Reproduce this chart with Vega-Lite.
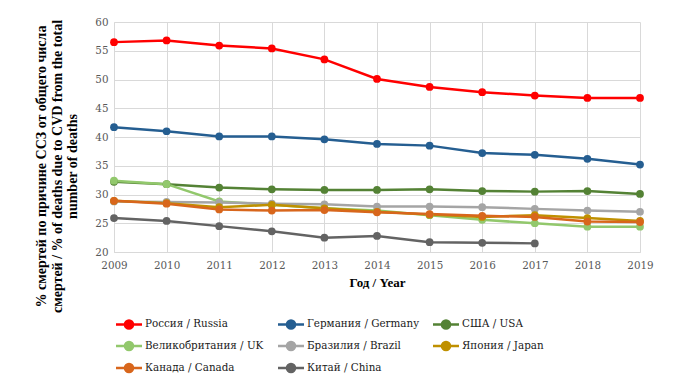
{
  "$schema": "https://vega.github.io/schema/vega-lite/v6.json",
  "width": 526,
  "height": 230,
  "autosize": {"type": "none"},
  "padding": {"left": 114, "top": 22, "right": 44, "bottom": 130},
  "background": "white",
  "config": {
    "view": {"stroke": null},
    "axis": {
      "labelFont": "DejaVu Serif Condensed, DejaVu Serif",
      "labelFontSize": 11.5,
      "labelColor": "#595959",
      "titleFont": "Liberation Serif",
      "titleFontSize": 13,
      "titleFontWeight": "bold",
      "titleColor": "#000000",
      "gridColor": "#d9d9d9",
      "gridWidth": 1,
      "domainColor": "#d9d9d9",
      "ticks": false,
      "labelFlush": false,
      "labelOverlap": false
    }
  },
  "data": {
    "values": [
      {"country": "Россия / Russia", "year": 2009, "value": 56.5},
      {"country": "Россия / Russia", "year": 2010, "value": 56.8},
      {"country": "Россия / Russia", "year": 2011, "value": 55.9},
      {"country": "Россия / Russia", "year": 2012, "value": 55.4},
      {"country": "Россия / Russia", "year": 2013, "value": 53.5},
      {"country": "Россия / Russia", "year": 2014, "value": 50.1},
      {"country": "Россия / Russia", "year": 2015, "value": 48.7},
      {"country": "Россия / Russia", "year": 2016, "value": 47.8},
      {"country": "Россия / Russia", "year": 2017, "value": 47.2},
      {"country": "Россия / Russia", "year": 2018, "value": 46.8},
      {"country": "Россия / Russia", "year": 2019, "value": 46.8},
      {"country": "Германия / Germany", "year": 2009, "value": 41.7},
      {"country": "Германия / Germany", "year": 2010, "value": 41.0},
      {"country": "Германия / Germany", "year": 2011, "value": 40.1},
      {"country": "Германия / Germany", "year": 2012, "value": 40.1},
      {"country": "Германия / Germany", "year": 2013, "value": 39.6},
      {"country": "Германия / Germany", "year": 2014, "value": 38.8},
      {"country": "Германия / Germany", "year": 2015, "value": 38.5},
      {"country": "Германия / Germany", "year": 2016, "value": 37.2},
      {"country": "Германия / Germany", "year": 2017, "value": 36.9},
      {"country": "Германия / Germany", "year": 2018, "value": 36.2},
      {"country": "Германия / Germany", "year": 2019, "value": 35.2},
      {"country": "США / USA", "year": 2009, "value": 32.2},
      {"country": "США / USA", "year": 2010, "value": 31.8},
      {"country": "США / USA", "year": 2011, "value": 31.2},
      {"country": "США / USA", "year": 2012, "value": 30.9},
      {"country": "США / USA", "year": 2013, "value": 30.8},
      {"country": "США / USA", "year": 2014, "value": 30.8},
      {"country": "США / USA", "year": 2015, "value": 30.9},
      {"country": "США / USA", "year": 2016, "value": 30.6},
      {"country": "США / USA", "year": 2017, "value": 30.5},
      {"country": "США / USA", "year": 2018, "value": 30.6},
      {"country": "США / USA", "year": 2019, "value": 30.1},
      {"country": "Великобритания / UK", "year": 2009, "value": 32.4},
      {"country": "Великобритания / UK", "year": 2010, "value": 31.8},
      {"country": "Великобритания / UK", "year": 2011, "value": 28.8},
      {"country": "Великобритания / UK", "year": 2012, "value": 28.2},
      {"country": "Великобритания / UK", "year": 2013, "value": 27.6},
      {"country": "Великобритания / UK", "year": 2014, "value": 27.2},
      {"country": "Великобритания / UK", "year": 2015, "value": 26.4},
      {"country": "Великобритания / UK", "year": 2016, "value": 25.6},
      {"country": "Великобритания / UK", "year": 2017, "value": 25.0},
      {"country": "Великобритания / UK", "year": 2018, "value": 24.4},
      {"country": "Великобритания / UK", "year": 2019, "value": 24.4},
      {"country": "Бразилия / Brazil", "year": 2009, "value": 28.8},
      {"country": "Бразилия / Brazil", "year": 2010, "value": 28.7},
      {"country": "Бразилия / Brazil", "year": 2011, "value": 28.6},
      {"country": "Бразилия / Brazil", "year": 2012, "value": 28.4},
      {"country": "Бразилия / Brazil", "year": 2013, "value": 28.3},
      {"country": "Бразилия / Brazil", "year": 2014, "value": 27.9},
      {"country": "Бразилия / Brazil", "year": 2015, "value": 27.9},
      {"country": "Бразилия / Brazil", "year": 2016, "value": 27.8},
      {"country": "Бразилия / Brazil", "year": 2017, "value": 27.5},
      {"country": "Бразилия / Brazil", "year": 2018, "value": 27.2},
      {"country": "Бразилия / Brazil", "year": 2019, "value": 27.0},
      {"country": "Япония / Japan", "year": 2009, "value": 28.9},
      {"country": "Япония / Japan", "year": 2010, "value": 28.5},
      {"country": "Япония / Japan", "year": 2011, "value": 27.8},
      {"country": "Япония / Japan", "year": 2012, "value": 28.2},
      {"country": "Япония / Japan", "year": 2013, "value": 27.6},
      {"country": "Япония / Japan", "year": 2014, "value": 27.0},
      {"country": "Япония / Japan", "year": 2015, "value": 26.5},
      {"country": "Япония / Japan", "year": 2016, "value": 26.1},
      {"country": "Япония / Japan", "year": 2017, "value": 26.4},
      {"country": "Япония / Japan", "year": 2018, "value": 25.9},
      {"country": "Япония / Japan", "year": 2019, "value": 25.4},
      {"country": "Канада / Canada", "year": 2009, "value": 28.9},
      {"country": "Канада / Canada", "year": 2010, "value": 28.4},
      {"country": "Канада / Canada", "year": 2011, "value": 27.4},
      {"country": "Канада / Canada", "year": 2012, "value": 27.2},
      {"country": "Канада / Canada", "year": 2013, "value": 27.3},
      {"country": "Канада / Canada", "year": 2014, "value": 26.9},
      {"country": "Канада / Canada", "year": 2015, "value": 26.6},
      {"country": "Канада / Canada", "year": 2016, "value": 26.3},
      {"country": "Канада / Canada", "year": 2017, "value": 26.1},
      {"country": "Канада / Canada", "year": 2018, "value": 25.3},
      {"country": "Канада / Canada", "year": 2019, "value": 25.2},
      {"country": "Китай / China", "year": 2009, "value": 25.9},
      {"country": "Китай / China", "year": 2010, "value": 25.4},
      {"country": "Китай / China", "year": 2011, "value": 24.5},
      {"country": "Китай / China", "year": 2012, "value": 23.6},
      {"country": "Китай / China", "year": 2013, "value": 22.5},
      {"country": "Китай / China", "year": 2014, "value": 22.8},
      {"country": "Китай / China", "year": 2015, "value": 21.7},
      {"country": "Китай / China", "year": 2016, "value": 21.6},
      {"country": "Китай / China", "year": 2017, "value": 21.5}
    ]
  },
  "encoding": {
    "x": {
      "field": "year",
      "type": "quantitative",
      "scale": {"domain": [2009, 2019], "nice": false, "zero": false},
      "axis": {"title": "Год / Year", "format": "d", "values": [2009,2010,2011,2012,2013,2014,2015,2016,2017,2018,2019], "labelPadding": 7, "titlePadding": 6}
    },
    "y": {
      "field": "value",
      "type": "quantitative",
      "scale": {"domain": [20, 60], "nice": false, "zero": false},
      "axis": {
        "title": ["% смертей по причине ССЗ от общего числа", "смертей / % of deaths due to CVD from the total", "number of deaths"],
        "values": [20, 25, 30, 35, 40, 45, 50, 55, 60],
        "labelPadding": 6,
        "titlePadding": 15,
        "titleFontSize": 14,
        "titleLineHeight": 15.5,
        "titleY": 144
      }
    },
    "color": {
      "field": "country",
      "type": "nominal",
      "sort": null,
      "scale": {
        "domain": ["Россия / Russia", "Германия / Germany", "США / USA", "Великобритания / UK", "Бразилия / Brazil", "Япония / Japan", "Канада / Canada", "Китай / China"],
        "range": ["#FF0000", "#255E91", "#548235", "#92C86C", "#A5A5A5", "#BF9000", "#D8661C", "#636363"]
      },
      "legend": {
        "title": null,
        "orient": "none",
        "legendX": 7,
        "legendY": 294,
        "direction": "horizontal",
        "columns": 3,
        "columnPadding": 9,
        "rowPadding": 2,
        "symbolType": "M-2,0L2,0M-0.62,0A0.62,0.62,0,1,1,0.62,0A0.62,0.62,0,1,1,-0.62,0Z",
        "symbolSize": 169,
        "symbolStrokeWidth": 2.5,
        "labelOffset": 8,
        "labelFont": "DejaVu Serif Condensed, DejaVu Serif",
        "labelFontSize": 11.5,
        "labelColor": "#1a1a1a",
        "labelLimit": 300,
        "encode": {
          "symbols": {"update": {"fill": {"scale": "color", "field": "value"}, "fillOpacity": {"value": 1}}}
        }
      }
    }
  },
  "layer": [
    {"mark": {"type": "line", "strokeWidth": 2.5}},
    {"mark": {"type": "point", "filled": true, "size": 60, "opacity": 1}}
  ]
}
